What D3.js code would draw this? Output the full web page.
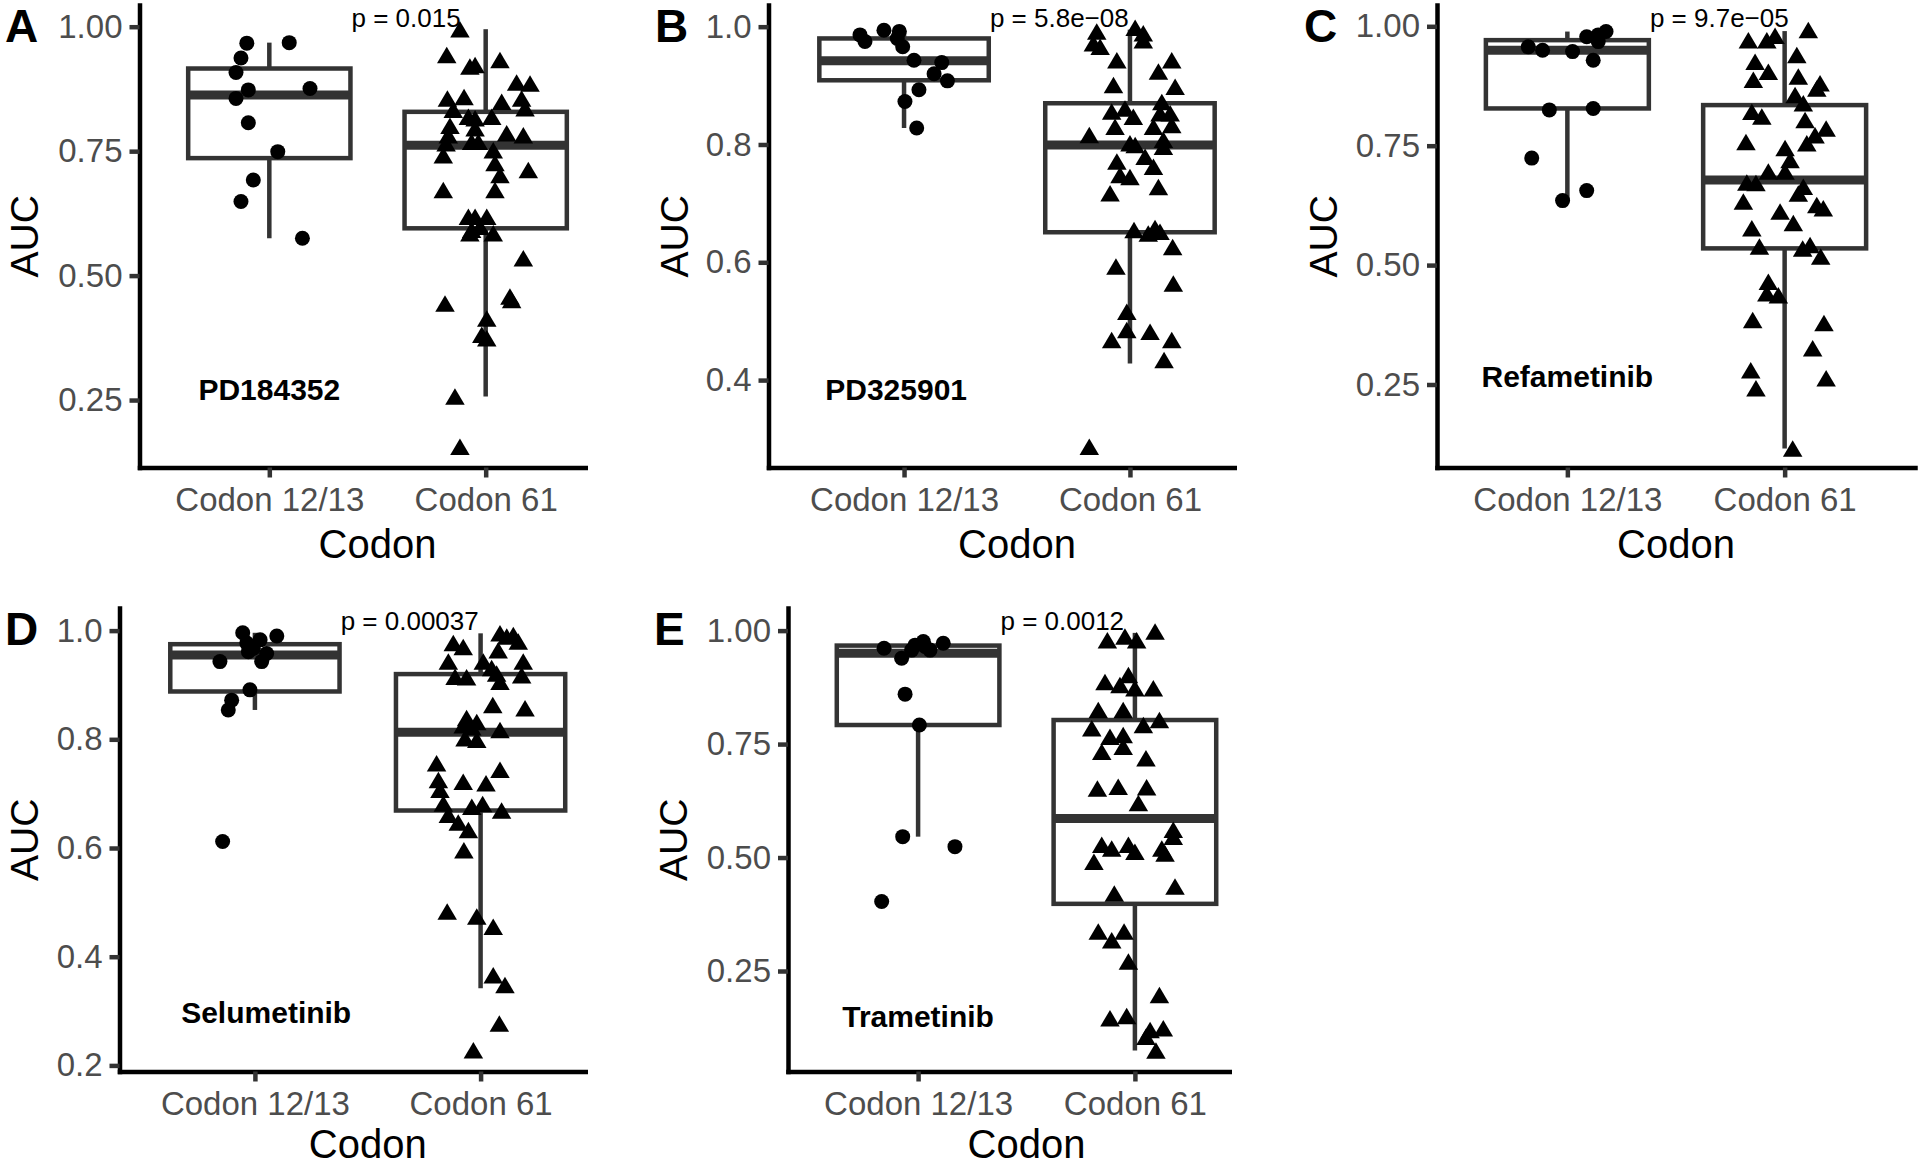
<!DOCTYPE html>
<html><head><meta charset="utf-8">
<script src="https://cdn.jsdelivr.net/npm/d3@7"></script>
<style>
html,body{margin:0;padding:0;background:#fff;}
svg{display:block;}
</style></head><body>
<svg id="chart" width="1920" height="1167"></svg>
<script>
// ---------- DATA ----------
const categories = ["Codon 12/13", "Codon 61"];
const panelLetters = ["A", "B", "C", "D", "E"];
const drugNames = ["PD184352", "PD325901", "Refametinib", "Selumetinib", "Trametinib"];
const pLabels = ["p = 0.015", "p = 5.8e\u221208", "p = 9.7e\u221205", "p = 0.00037", "p = 0.0012"];
const yTicks = [[0.25, 0.5, 0.75, 1.0], [0.4, 0.6, 0.8, 1.0], [0.25, 0.5, 0.75, 1.0], [0.2, 0.4, 0.6, 0.8, 1.0], [0.25, 0.5, 0.75, 1.0]];
const yTickFormats = [".2f", ".1f", ".2f", ".1f", ".2f"];
const yLimits = [[0.1145, 1.0436], [0.2516, 1.0368], [0.0762, 1.0446], [0.1888, 1.0416], [0.0286, 1.0498]];
// drug label position [x in category units (1 = first group), AUC]
const drugLabelPos = [[1, 0.272], [0.965, 0.385], [1, 0.267], [1.05, 0.297], [1, 0.151]];
const pLabelX = [1.38, 1.38, 1.38, 1.38, 1.38];

// Points: [AUC, horizontal jitter in category-step units]
const pd184352_c1213 = [[0.967,-0.104],[0.968,0.092],[0.937,-0.131],[0.908,-0.154],[0.873,-0.097],[0.876,0.188],[0.856,-0.154],[0.807,-0.097],[0.749,0.039],[0.692,-0.074],[0.649,-0.131],[0.575,0.153]];
const pd184352_c61 = [[0.995,-0.119],[0.943,-0.180],[0.920,-0.073],[0.923,-0.049],[0.933,0.066],[0.888,0.143],[0.886,0.205],[0.856,-0.177],[0.859,-0.100],[0.849,0.074],[0.856,0.166],[0.836,0.182],[0.833,-0.150],[0.819,-0.080],[0.816,-0.049],[0.819,0.028],[0.801,-0.165],[0.796,-0.049],[0.782,-0.173],[0.786,0.097],[0.782,0.174],[0.769,-0.065],[0.769,-0.034],[0.742,-0.196],[0.752,0.035],[0.726,0.043],[0.702,0.066],[0.712,0.197],[0.672,-0.196],[0.672,0.043],[0.618,-0.080],[0.618,-0.049],[0.618,0.005],[0.585,-0.073],[0.585,0.035],[0.535,0.174],[0.444,-0.188],[0.458,0.112],[0.451,0.120],[0.414,0.005],[0.381,-0.018],[0.374,0.005],[0.257,-0.142],[0.156,-0.119],[0.592,-0.065],[0.598,-0.026],[0.766,-0.183]];
const pd325901_c1213 = [[0.986,-0.195],[0.975,-0.173],[0.994,-0.089],[0.992,-0.021],[0.980,-0.030],[0.966,-0.006],[0.943,0.044],[0.939,0.167],[0.920,0.133],[0.908,0.192],[0.893,0.066],[0.873,0.004],[0.828,0.056]];
const pd325901_c61 = [[0.992,-0.147],[0.972,-0.162],[0.966,-0.132],[0.998,0.023],[0.989,0.059],[0.977,0.059],[0.943,-0.058],[0.943,0.185],[0.924,0.126],[0.901,-0.073],[0.898,0.200],[0.872,0.141],[0.856,-0.081],[0.861,-0.022],[0.847,0.015],[0.853,0.133],[0.853,0.178],[0.830,-0.066],[0.830,0.104],[0.833,0.185],[0.816,-0.180],[0.802,0.000],[0.799,0.023],[0.808,0.148],[0.796,0.148],[0.771,-0.058],[0.779,0.067],[0.762,0.104],[0.748,-0.044],[0.745,0.000],[0.728,0.126],[0.717,-0.088],[0.655,0.018],[0.649,0.081],[0.658,0.111],[0.652,0.133],[0.626,0.189],[0.593,-0.062],[0.564,0.192],[0.516,-0.014],[0.485,-0.014],[0.468,-0.081],[0.482,0.089],[0.468,0.185],[0.434,0.151],[0.287,-0.180]];
const refametinib_c1213 = [[0.957,-0.180],[0.950,-0.114],[0.947,0.024],[0.929,0.119],[0.978,0.089],[0.982,0.142],[0.989,0.178],[0.968,0.142],[0.825,-0.083],[0.828,0.119],[0.724,-0.164],[0.656,0.089],[0.635,-0.022]];
const refametinib_c61 = [[0.971,-0.167],[0.971,-0.082],[0.980,-0.044],[0.992,0.109],[0.926,-0.136],[0.905,-0.075],[0.940,0.056],[0.888,-0.144],[0.895,0.063],[0.881,0.163],[0.870,0.148],[0.856,0.048],[0.839,0.086],[0.821,-0.151],[0.811,-0.105],[0.804,0.094],[0.786,0.191],[0.772,0.140],[0.755,0.102],[0.758,-0.178],[0.745,0.002],[0.720,0.025],[0.696,-0.075],[0.696,0.002],[0.673,-0.174],[0.672,-0.132],[0.664,0.086],[0.650,0.063],[0.633,-0.190],[0.626,0.148],[0.619,0.178],[0.612,-0.021],[0.588,0.040],[0.577,-0.151],[0.539,-0.116],[0.535,0.083],[0.542,0.117],[0.518,0.166],[0.465,-0.075],[0.441,-0.082],[0.437,-0.029],[0.385,-0.147],[0.379,0.181],[0.326,0.129],[0.280,-0.156],[0.242,-0.132],[0.263,0.191],[0.116,0.037]];
const selumetinib_c1213 = [[0.996,-0.054],[0.990,0.097],[0.983,0.023],[0.977,-0.036],[0.967,-0.007],[0.961,-0.029],[0.958,0.052],[0.943,0.030],[0.943,-0.155],[0.891,-0.022],[0.872,-0.103],[0.854,-0.118],[0.612,-0.143]];
const selumetinib_c61 = [[0.995,0.086],[0.989,0.116],[0.992,0.145],[0.980,0.167],[0.977,-0.121],[0.970,-0.077],[0.964,0.078],[0.943,-0.143],[0.943,0.012],[0.943,0.189],[0.931,0.049],[0.921,0.071],[0.915,-0.113],[0.914,-0.062],[0.906,0.086],[0.918,0.182],[0.863,0.054],[0.857,0.197],[0.839,-0.062],[0.832,-0.017],[0.826,-0.077],[0.822,-0.039],[0.817,0.086],[0.802,-0.069],[0.799,-0.017],[0.756,-0.195],[0.744,0.086],[0.725,-0.187],[0.722,-0.077],[0.719,0.024],[0.707,-0.180],[0.682,-0.165],[0.676,-0.039],[0.681,0.009],[0.669,0.093],[0.661,-0.143],[0.647,-0.099],[0.633,-0.054],[0.596,-0.074],[0.483,-0.148],[0.474,-0.017],[0.455,0.056],[0.366,0.056],[0.348,0.108],[0.277,0.083],[0.228,-0.032]];
const trametinib_c1213 = [[0.961,-0.157],[0.939,-0.076],[0.957,-0.030],[0.968,-0.014],[0.976,0.024],[0.965,0.032],[0.972,0.116],[0.957,0.055],[0.860,-0.060],[0.792,0.006],[0.546,-0.071],[0.524,0.170],[0.403,-0.168]];
const trametinib_c61 = [[0.979,-0.127],[0.987,-0.046],[0.979,0.008],[0.998,0.093],[0.887,-0.138],[0.880,-0.069],[0.902,-0.030],[0.873,0.000],[0.873,0.085],[0.825,-0.169],[0.825,-0.054],[0.785,-0.199],[0.792,0.039],[0.803,0.113],[0.766,-0.115],[0.770,-0.054],[0.733,-0.153],[0.744,-0.054],[0.719,0.051],[0.652,-0.173],[0.656,-0.077],[0.655,0.054],[0.620,0.016],[0.561,0.177],[0.546,0.177],[0.528,-0.153],[0.520,-0.107],[0.528,-0.030],[0.513,0.000],[0.520,0.124],[0.509,0.139],[0.491,-0.189],[0.436,0.185],[0.421,-0.095],[0.337,-0.169],[0.337,-0.050],[0.318,-0.107],[0.271,-0.030],[0.197,0.113],[0.146,-0.115],[0.151,-0.038],[0.120,0.070],[0.124,0.131],[0.105,0.051],[0.075,0.097]];

// Box statistics: [whisker low, Q1, median, Q3, whisker high]
const pd184352_box = [[0.575,0.736,0.863,0.916,0.968],[0.257,0.595,0.762,0.829,0.995]];
const pd325901_box = [[0.828,0.909,0.942,0.980,0.994],[0.428,0.651,0.799,0.870,0.995]];
const refametinib_box = [[0.635,0.828,0.950,0.971,0.989],[0.116,0.535,0.678,0.835,0.990]];
const selumetinib_box = [[0.854,0.888,0.955,0.975,0.996],[0.342,0.669,0.813,0.920,0.995]];
const trametinib_box = [[0.546,0.792,0.950,0.967,0.976],[0.075,0.398,0.586,0.803,0.995]];

const groupPoints = [
  [pd184352_c1213, pd184352_c61],
  [pd325901_c1213, pd325901_c61],
  [refametinib_c1213, refametinib_c61],
  [selumetinib_c1213, selumetinib_c61],
  [trametinib_c1213, trametinib_c61]
];
const groupBoxes = [pd184352_box, pd325901_box, refametinib_box, selumetinib_box, trametinib_box];

// ---------- LAYOUT ----------
const FONT = '"Liberation Sans", Arial, Helvetica, sans-serif';
const panels = [
  {ox: 0,    left: 139.5, right: 615.5,  top: 5,   bottom: 467.5, crop: 588,  titleGap: 90},
  {ox: 650,  left: 768.5, right: 1265.5, top: 5,   bottom: 467.5, crop: 1237, titleGap: 90},
  {ox: 1299, left: 1437,  right: 1915,   top: 5,   bottom: 467.5, crop: 1920, titleGap: 90},
  {ox: 0,    left: 119.5, right: 616,    top: 608, bottom: 1071.5, crop: 588,  titleGap: 86},
  {ox: 649,  left: 788,   right: 1265,   top: 608, bottom: 1071.5, crop: 1232, titleGap: 86}
];
const LW = 4.5;          // box / axis line width
const MEDW = 9;          // median line width
const CIRCLE_R = 7.5;
const TRI_W = 19.5, TRI_H = 16.5;
const trianglePath = `M0,${-TRI_H/2}L${TRI_W/2},${TRI_H/2}L${-TRI_W/2},${TRI_H/2}Z`;
const TICK_FS = 33;

const svg = d3.select("#chart");
svg.append("rect").attr("width", 1920).attr("height", 1167).attr("fill", "#fff");
const defs = svg.append("defs");

panels.forEach((P, i) => {
  defs.append("clipPath").attr("id", "crop" + i)
    .append("rect").attr("x", P.ox).attr("y", 0).attr("width", P.crop - P.ox).attr("height", 1167);
  const g = svg.append("g").attr("clip-path", `url(#crop${i})`);
  const x = d3.scalePoint().domain(categories).range([P.left, P.right]).padding(0.6);
  const y = d3.scaleLinear().domain(yLimits[i]).range([P.bottom, P.top]);
  const step = x.step();
  const bw = 0.75 * step;
  const xAt = v => x(categories[0]) + (v - 1) * step;

  // boxes
  categories.forEach((cat, k) => {
    const [lo, q1, med, q3, hi] = groupBoxes[i][k];
    const cx = x(cat);
    g.append("line").attr("x1", cx).attr("x2", cx).attr("y1", y(q3)).attr("y2", y(hi))
      .attr("stroke", "#333").attr("stroke-width", LW);
    g.append("line").attr("x1", cx).attr("x2", cx).attr("y1", y(q1)).attr("y2", y(lo))
      .attr("stroke", "#333").attr("stroke-width", LW);
    g.append("rect").attr("x", cx - bw / 2).attr("y", y(q3)).attr("width", bw).attr("height", y(q1) - y(q3))
      .attr("fill", "#fff").attr("stroke", "#333").attr("stroke-width", LW);
    g.append("line").attr("x1", cx - bw / 2).attr("x2", cx + bw / 2).attr("y1", y(med)).attr("y2", y(med))
      .attr("stroke", "#333").attr("stroke-width", MEDW);
  });

  // points
  const [pts1, pts2] = groupPoints[i];
  g.selectAll("circle.pt").data(pts1).join("circle").attr("class", "pt")
    .attr("cx", d => x(categories[0]) + d[1] * step).attr("cy", d => y(d[0]))
    .attr("r", CIRCLE_R).attr("fill", "#000");
  g.selectAll("path.tri").data(pts2).join("path").attr("class", "tri")
    .attr("transform", d => `translate(${x(categories[1]) + d[1] * step},${y(d[0])})`)
    .attr("d", trianglePath).attr("fill", "#000");

  // y axis
  const ya = g.append("g").attr("transform", `translate(${P.left},0)`)
    .call(d3.axisLeft(y).tickValues(yTicks[i]).tickFormat(d3.format(yTickFormats[i]))
      .tickSize(10).tickSizeOuter(0).tickPadding(7));
  ya.attr("font-family", FONT).attr("font-size", TICK_FS);
  ya.select(".domain").attr("stroke", "#000").attr("stroke-width", LW).attr("stroke-linecap", "square");
  ya.selectAll(".tick line").attr("stroke", "#333").attr("stroke-width", LW);
  ya.selectAll(".tick text").attr("fill", "#4d4d4d");

  // x axis
  const xa = g.append("g").attr("transform", `translate(0,${P.bottom})`)
    .call(d3.axisBottom(x).tickSize(10).tickSizeOuter(0).tickPadding(10));
  xa.attr("font-family", FONT).attr("font-size", TICK_FS);
  xa.select(".domain").attr("stroke", "#000").attr("stroke-width", LW).attr("stroke-linecap", "square");
  xa.selectAll(".tick line").attr("stroke", "#333").attr("stroke-width", LW);
  xa.selectAll(".tick text").attr("fill", "#4d4d4d");

  // axis titles
  g.append("text").attr("x", (P.left + P.right) / 2).attr("y", P.bottom + P.titleGap)
    .attr("text-anchor", "middle").attr("font-family", FONT).attr("font-size", 40).attr("fill", "#000")
    .text("Codon");
  g.append("text").attr("transform", `translate(${P.ox + 23.5},${(P.top + P.bottom) / 2}) rotate(-90)`)
    .attr("text-anchor", "middle").attr("dy", "0.36em").attr("font-family", FONT).attr("font-size", 39).attr("fill", "#000")
    .text("AUC");

  // panel letter
  g.append("text").attr("x", P.ox + 5).attr("y", P.top + 37)
    .attr("font-family", FONT).attr("font-weight", "bold").attr("font-size", 46).attr("fill", "#000")
    .text(panelLetters[i]);

  // p value
  g.append("text").attr("x", xAt(pLabelX[i])).attr("y", P.top + 21.5)
    .attr("font-family", FONT).attr("font-size", 26).attr("fill", "#000")
    .text(pLabels[i]);

  // drug name
  g.append("text").attr("x", xAt(drugLabelPos[i][0])).attr("y", y(drugLabelPos[i][1]))
    .attr("dy", "0.36em").attr("text-anchor", "middle")
    .attr("font-family", FONT).attr("font-weight", "bold").attr("font-size", 30).attr("fill", "#000")
    .text(drugNames[i]);
});
</script>
</body></html>
